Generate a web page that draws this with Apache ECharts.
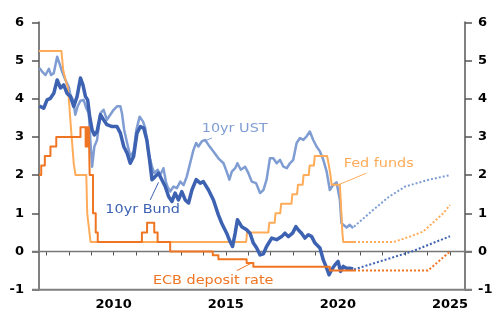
<!DOCTYPE html>
<html><head><meta charset="utf-8">
<script src="https://cdn.jsdelivr.net/npm/echarts@6/dist/echarts.min.js"></script>
<style>html,body{margin:0;padding:0;background:#fff}#c{width:504px;height:328px}</style>
</head><body><div id="c"></div><script>
// ---- data (x in decimal years, y in %) ----
const yTickValues = [-1, 0, 1, 2, 3, 4, 5, 6];
const xTickYears = [2007,2008,2009,2010,2011,2012,2013,2014,2015,2016,2017,2018,2019,2020,2021,2022,2023,2024,2025];
const xLabelYears = [2010, 2015, 2020, 2025];

const fedFunds = [[2006.67,5.25],[2007.67,5.25],[2007.75,4.75],[2007.85,4.5],[2007.95,4.3],[2008.0,4.0],[2008.1,3.2],[2008.22,2.3],[2008.3,2.0],[2008.78,2.0],[2008.82,1.0],[2008.88,1.0],[2008.97,0.25],[2015.91,0.25],[2015.95,0.5],[2016.9,0.5],[2016.94,0.75],[2017.18,0.75],[2017.22,1.0],[2017.43,1.0],[2017.47,1.25],[2017.93,1.25],[2017.97,1.5],[2018.18,1.5],[2018.22,1.75],[2018.43,1.75],[2018.47,2.0],[2018.70,2.0],[2018.74,2.25],[2018.93,2.25],[2018.97,2.5],[2019.52,2.5],[2019.6,2.25],[2019.67,2.0],[2019.72,1.75],[2020.09,1.75],[2020.2,0.5],[2020.24,0.25],[2020.72,0.25]];
const fedFundsProj = [[2020.72,0.25],[2022.5,0.25],[2023.25,0.4],[2023.8,0.52],[2024.7,1.0],[2025.0,1.22]];

const ecbDeposit = [[2006.67,2.0],[2006.77,2.25],[2006.93,2.5],[2007.18,2.75],[2007.44,3.0],[2008.52,3.25],[2008.75,2.75],[2008.77,3.25],[2008.79,2.75],[2008.81,3.25],[2008.83,2.75],[2008.85,3.25],[2008.87,2.75],[2008.89,3.25],[2008.93,2.0],[2009.08,1.0],[2009.2,0.5],[2009.29,0.25],[2011.26,0.5],[2011.49,0.75],[2011.81,0.5],[2011.96,0.25],[2012.52,0.0],[2014.42,-0.1],[2014.67,-0.2],[2015.93,-0.3],[2016.23,-0.4],[2019.64,-0.5],[2020.72,-0.5]];
const ecbDepositProj = [[2020.72,-0.5],[2024.02,-0.5],[2025.0,0.0]];

const ust10 = [[2006.69,4.80],[2006.81,4.71],[2006.96,4.62],[2007.11,4.78],[2007.21,4.62],[2007.33,4.67],[2007.48,5.10],[2007.6,4.89],[2007.7,4.71],[2007.85,4.49],[2008.0,4.30],[2008.07,4.10],[2008.19,3.97],[2008.29,3.58],[2008.4,3.81],[2008.52,3.95],[2008.66,3.97],[2008.78,3.75],[2008.89,3.62],[2008.96,2.92],[2009.04,2.22],[2009.14,2.75],[2009.26,2.92],[2009.41,3.62],[2009.55,3.71],[2009.7,3.45],[2009.85,3.58],[2010.0,3.71],[2010.15,3.80],[2010.3,3.80],[2010.37,3.62],[2010.47,3.18],[2010.6,2.84],[2010.74,2.49],[2010.89,2.62],[2011.01,3.18],[2011.16,3.53],[2011.31,3.40],[2011.41,3.23],[2011.56,2.57],[2011.71,2.22],[2011.81,2.05],[2011.96,2.14],[2012.08,2.01],[2012.22,2.18],[2012.33,1.83],[2012.4,1.70],[2012.52,1.57],[2012.67,1.70],[2012.82,1.66],[2012.97,1.83],[2013.12,1.74],[2013.26,1.96],[2013.41,2.31],[2013.56,2.66],[2013.68,2.84],[2013.78,2.75],[2013.93,2.88],[2014.08,2.92],[2014.23,2.79],[2014.45,2.62],[2014.67,2.44],[2014.9,2.31],[2015.04,2.09],[2015.16,1.88],[2015.27,2.09],[2015.42,2.18],[2015.52,2.31],[2015.67,2.14],[2015.86,2.22],[2016.01,2.05],[2016.16,1.83],[2016.35,1.79],[2016.53,1.53],[2016.68,1.61],[2016.82,1.88],[2016.97,2.44],[2017.12,2.44],[2017.27,2.31],[2017.42,2.40],[2017.57,2.22],[2017.72,2.18],[2017.86,2.31],[2018.01,2.40],[2018.16,2.84],[2018.31,2.97],[2018.46,2.92],[2018.6,3.01],[2018.75,3.14],[2018.9,2.92],[2019.05,2.75],[2019.2,2.62],[2019.35,2.40],[2019.5,2.09],[2019.64,1.61],[2019.79,1.74],[2019.94,1.81],[2020.01,1.83],[2020.09,1.35],[2020.16,0.74],[2020.24,0.74],[2020.39,0.63],[2020.53,0.70],[2020.68,0.61]];
const ust10Proj = [[2020.72,0.65],[2021.5,1.05],[2022.25,1.42],[2023.0,1.70],[2024.0,1.87],[2025.0,2.0]];

const bund10 = [[2006.69,3.81],[2006.88,3.75],[2007.03,3.97],[2007.18,4.01],[2007.33,4.14],[2007.48,4.49],[2007.63,4.28],[2007.77,4.36],[2007.92,4.14],[2008.07,4.06],[2008.22,3.80],[2008.37,4.06],[2008.52,4.54],[2008.63,4.36],[2008.74,4.06],[2008.84,3.97],[2008.93,3.53],[2009.04,3.18],[2009.14,3.05],[2009.26,3.14],[2009.41,3.58],[2009.55,3.45],[2009.7,3.32],[2009.93,3.27],[2010.15,3.27],[2010.3,3.10],[2010.45,2.75],[2010.6,2.57],[2010.74,2.31],[2010.89,2.49],[2011.04,3.10],[2011.19,3.27],[2011.34,3.23],[2011.48,2.92],[2011.6,2.40],[2011.71,1.88],[2011.85,1.96],[2012.0,2.05],[2012.15,1.88],[2012.3,1.70],[2012.45,1.44],[2012.6,1.31],[2012.74,1.53],[2012.89,1.35],[2013.04,1.57],[2013.19,1.35],[2013.34,1.27],[2013.49,1.61],[2013.68,1.88],[2013.86,1.79],[2014.0,1.83],[2014.23,1.61],[2014.45,1.35],[2014.67,0.96],[2014.82,0.74],[2015.04,0.48],[2015.19,0.26],[2015.3,0.13],[2015.42,0.48],[2015.52,0.83],[2015.71,0.65],[2015.93,0.57],[2016.08,0.48],[2016.23,0.22],[2016.38,0.09],[2016.53,-0.09],[2016.68,-0.06],[2016.82,0.13],[2017.05,0.35],[2017.27,0.31],[2017.49,0.39],[2017.64,0.48],[2017.79,0.39],[2017.98,0.48],[2018.13,0.65],[2018.23,0.57],[2018.38,0.48],[2018.53,0.35],[2018.68,0.44],[2018.83,0.39],[2018.98,0.22],[2019.2,0.09],[2019.35,-0.22],[2019.47,-0.39],[2019.61,-0.61],[2019.72,-0.48],[2019.87,-0.35],[2020.01,-0.26],[2020.12,-0.52],[2020.24,-0.39],[2020.39,-0.44],[2020.53,-0.44],[2020.68,-0.46]];
const bund10Proj = [[2020.72,-0.47],[2023.3,0.0],[2025.0,0.4]];

// annotation labels and leader lines (data coordinates)
const labelTexts = ['10yr UST', 'Fed funds', '10yr Bund', 'ECB deposit rate'];
const labelAnchors = [[2013.93,3.21],[2020.26,2.29],[2009.63,1.09],[2011.75,-0.77]];
const leaderUst = [[2014.0,2.88],[2014.38,2.97]];
const leaderFed = [[2021.27,2.05],[2020.08,1.76]];
const leaderBund = [[2011.63,1.35],[2012.0,1.81]];
const leaderEcb = [[2015.49,-0.50],[2016.16,-0.30]];

// ---- styles ----
const C_UST = '#7f9dd3', C_BUND = '#3d62b2', C_FED = '#ffac5a', C_ECB = '#f07522';
const AXIS = '#808080', TICK = '#555';
const X_MIN = 2006.67, X_MAX = 2025.67;

const chart = echarts.init(document.getElementById('c'), null, {renderer: 'canvas'});
const axisFont = {fontFamily: 'DejaVu Sans', fontWeight: 'bold', fontSize: 13, color: '#000'};

function line(data, color, width, z, dotted, step) {
  return {type: 'line', data: data, showSymbol: false, symbol: 'none', silent: true, z: z,
    step: step || false,
    lineStyle: {color: color, width: width, type: dotted ? [2, 2] : 'solid', cap: 'butt', join: 'round'},
    animation: false};
}

const option = {
  animation: false,
  grid: {left: 39, right: 39, top: 22.3, bottom: 38.3, containLabel: false},
  xAxis: {type: 'value', min: X_MIN, max: X_MAX,
    axisLine: {show: false},
    splitLine: {show: false},
    axisTick: {show: true, inside: false, length: 4, lineStyle: {color: TICK, width: 1}, customValues: xTickYears},
    axisLabel: Object.assign({margin: 8, customValues: xLabelYears, formatter: v => String(v)}, axisFont)
  },
  yAxis: [
    {type: 'value', min: -1, max: 6, interval: 1, position: 'left',
      axisLine: {show: true, lineStyle: {color: AXIS, width: 2}},
      axisTick: {show: true, length: 7, lineStyle: {color: TICK, width: 1.5}},
      splitLine: {show: false},
      axisLabel: Object.assign({margin: 15, formatter: v => String(v)}, axisFont)},
    {type: 'value', min: -1, max: 6, interval: 1, position: 'right',
      axisLine: {show: true, lineStyle: {color: AXIS, width: 2}},
      axisTick: {show: true, length: 7, lineStyle: {color: TICK, width: 1.5}},
      splitLine: {show: false},
      axisLabel: Object.assign({margin: 13, formatter: v => String(v)}, axisFont)}
  ],
  series: [
    line(ust10, C_UST, 2.5, 3),
    line(ust10Proj, C_UST, 2, 3, true),
    line(fedFunds, C_FED, 2, 4),
    line(fedFundsProj, C_FED, 2, 4, true),
    line(bund10, C_BUND, 3.5, 5),
    line(bund10Proj, C_BUND, 2, 5, true),
    line(ecbDeposit, C_ECB, 2, 6, false, 'end'),
    line(ecbDepositProj, C_ECB, 2, 6, true),
    line(leaderUst, C_UST, 1, 7),
    line(leaderFed, C_FED, 1, 7),
    line(leaderBund, C_BUND, 1, 7),
    line(leaderEcb, C_ECB, 1, 7)
  ]
};
chart.setOption(option);

// axis lines spanning the tick area, and annotation texts positioned through the axes
const p0 = chart.convertToPixel({gridIndex: 0}, [X_MIN, 0]);
const p1 = chart.convertToPixel({gridIndex: 0}, [X_MAX, -1]);
const leftX = p0[0] - 7, rightX = p1[0] + 7;
const labelColors = [C_UST, C_FED, C_BUND, C_ECB];
const graphics = [
  {type: 'line', z: 2, shape: {x1: leftX, y1: p0[1], x2: rightX, y2: p0[1]}, style: {stroke: '#777', lineWidth: 1.5}},
  {type: 'line', z: 2, shape: {x1: leftX, y1: p1[1], x2: rightX, y2: p1[1]}, style: {stroke: AXIS, lineWidth: 2}}
];
labelTexts.forEach((t, i) => {
  const p = chart.convertToPixel({gridIndex: 0}, labelAnchors[i]);
  graphics.push({type: 'text', z: 10, x: p[0], y: p[1], scaleX: 1.2,
    style: {text: t, fill: labelColors[i], font: '12px "DejaVu Sans"', textAlign: 'left', textVerticalAlign: 'middle'}});
});
chart.setOption({graphic: graphics});
</script></body></html>
